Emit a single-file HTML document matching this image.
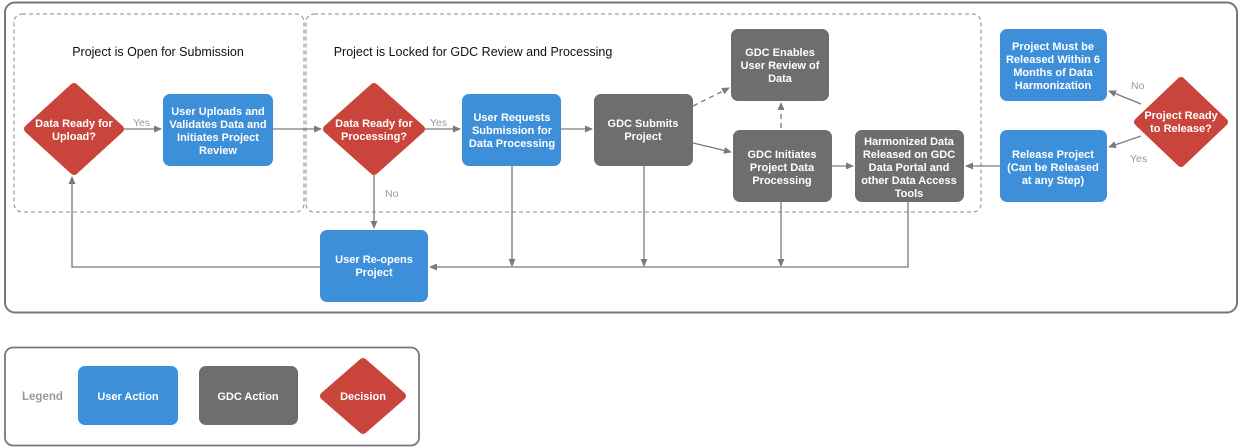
<!DOCTYPE html>
<html><head><meta charset="utf-8"><style>
html,body{margin:0;padding:0;background:#fff;}
svg{display:block;font-family:"Liberation Sans",sans-serif;}
.t{fill:#fff;font-weight:bold;font-size:11px;text-anchor:middle;}
.l{fill:#999;font-size:10.5px;}
.ln{stroke:#7a7a7a;stroke-width:1.3;fill:none;}
</style></head><body>
<svg width="1242" height="448" viewBox="0 0 1242 448">
<defs>
<marker id="a" markerWidth="8" markerHeight="8" refX="7" refY="4" orient="auto" markerUnits="userSpaceOnUse"><path d="M0,0.5 L8,4 L0,7.5z" fill="#7a7a7a"/></marker>
</defs>
<rect x="5" y="2.5" width="1232" height="310" rx="10" fill="none" stroke="#777" stroke-width="2"/>
<rect x="14" y="14" width="290" height="198" rx="8" fill="none" stroke="#888" stroke-dasharray="4,3"/>
<rect x="306" y="14" width="675" height="198" rx="8" fill="none" stroke="#888" stroke-dasharray="4,3"/>
<text x="158" y="56" font-size="12.5" text-anchor="middle" fill="#111">Project is Open for Submission</text>
<text x="473" y="56" font-size="12.5" text-anchor="middle" fill="#111">Project is Locked for GDC Review and Processing</text>

<path class="ln" d="M124,129 H161" marker-end="url(#a)"/>
<text class="l" x="133" y="126">Yes</text>
<path class="ln" d="M273,129 H321" marker-end="url(#a)"/>
<path class="ln" d="M425,129 H460" marker-end="url(#a)"/>
<text class="l" x="430" y="126">Yes</text>
<path class="ln" d="M561,129 H592" marker-end="url(#a)"/>
<path class="ln" d="M374,175 V228" marker-end="url(#a)"/>
<text class="l" x="385" y="197">No</text>
<path class="ln" d="M693,106 L729,88" stroke-dasharray="5,4" marker-end="url(#a)"/>
<path class="ln" d="M693,143 L731,152" marker-end="url(#a)"/>
<path class="ln" d="M781,128 V103" stroke-dasharray="5,4" marker-end="url(#a)"/>
<path class="ln" d="M832,166 H853" marker-end="url(#a)"/>
<path class="ln" d="M1000,166 H966" marker-end="url(#a)"/>
<path class="ln" d="M1141,104 L1109,91" marker-end="url(#a)"/>
<text class="l" x="1131" y="89">No</text>
<path class="ln" d="M1141,136 L1109,147" marker-end="url(#a)"/>
<text class="l" x="1130" y="162">Yes</text>
<path class="ln" d="M512,166 V266" marker-end="url(#a)"/>
<path class="ln" d="M644,166 V266" marker-end="url(#a)"/>
<path class="ln" d="M781,202 V266" marker-end="url(#a)"/>
<path class="ln" d="M908,202 V267 H430" marker-end="url(#a)"/>
<path class="ln" d="M320,267 H72 V177" marker-end="url(#a)"/>

<g fill="#c9443a" stroke="#c9443a" stroke-width="8" stroke-linejoin="round">
<path d="M74,87 L120,129 L74,171 L28,129z"/>
<path d="M374,87 L421,129 L374,171 L327,129z"/>
<path d="M1181,81 L1224,122 L1181,163 L1138,122z"/>
<path d="M363,362 L402,396 L363,430 L324,396z"/>
</g>
<text class="t" x="74" y="127">Data Ready for</text><text class="t" x="74" y="140">Upload?</text>
<text class="t" x="374" y="127">Data Ready for</text><text class="t" x="374" y="140">Processing?</text>
<text class="t" x="1181" y="119">Project Ready</text><text class="t" x="1181" y="132">to Release?</text>
<text class="t" x="363" y="400">Decision</text>

<g fill="#3d8fd9">
<rect x="163" y="94" width="110" height="72" rx="7"/>
<rect x="462" y="94" width="99" height="72" rx="7"/>
<rect x="320" y="230" width="108" height="72" rx="7"/>
<rect x="1000" y="29" width="107" height="72" rx="7"/>
<rect x="1000" y="130" width="107" height="72" rx="7"/>
<rect x="78" y="366" width="100" height="59" rx="7"/>
</g>
<g fill="#6e6e6e">
<rect x="594" y="94" width="99" height="72" rx="7"/>
<rect x="731" y="29" width="98" height="72" rx="7"/>
<rect x="733" y="130" width="99" height="72" rx="7"/>
<rect x="855" y="130" width="109" height="72" rx="7"/>
<rect x="199" y="366" width="99" height="59" rx="7"/>
</g>
<text class="t" x="218" y="115">User Uploads and</text><text class="t" x="218" y="128">Validates Data and</text><text class="t" x="218" y="141">Initiates Project</text><text class="t" x="218" y="154">Review</text>
<text class="t" x="512" y="121">User Requests</text><text class="t" x="512" y="134">Submission for</text><text class="t" x="512" y="147">Data Processing</text>
<text class="t" x="643" y="127">GDC Submits</text><text class="t" x="643" y="140">Project</text>
<text class="t" x="780" y="56">GDC Enables</text><text class="t" x="780" y="69">User Review of</text><text class="t" x="780" y="82">Data</text>
<text class="t" x="782" y="158">GDC Initiates</text><text class="t" x="782" y="171">Project Data</text><text class="t" x="782" y="184">Processing</text>
<text class="t" x="909" y="145">Harmonized Data</text><text class="t" x="909" y="158">Released on GDC</text><text class="t" x="909" y="171">Data Portal and</text><text class="t" x="909" y="184">other Data Access</text><text class="t" x="909" y="197">Tools</text>
<text class="t" x="374" y="263">User Re-opens</text><text class="t" x="374" y="276">Project</text>
<text class="t" x="1053" y="50">Project Must be</text><text class="t" x="1053" y="63">Released Within 6</text><text class="t" x="1053" y="76">Months of Data</text><text class="t" x="1053" y="89">Harmonization</text>
<text class="t" x="1053" y="158">Release Project</text><text class="t" x="1053" y="171">(Can be Released</text><text class="t" x="1053" y="184">at any Step)</text>
<text class="t" x="128" y="400">User Action</text>
<text class="t" x="248" y="400">GDC Action</text>

<rect x="5" y="347.5" width="414" height="98" rx="8" fill="none" stroke="#777" stroke-width="1.8"/>
<text x="22" y="400" font-size="11.5" font-weight="bold" fill="#999">Legend</text>
</svg>
</body></html>
